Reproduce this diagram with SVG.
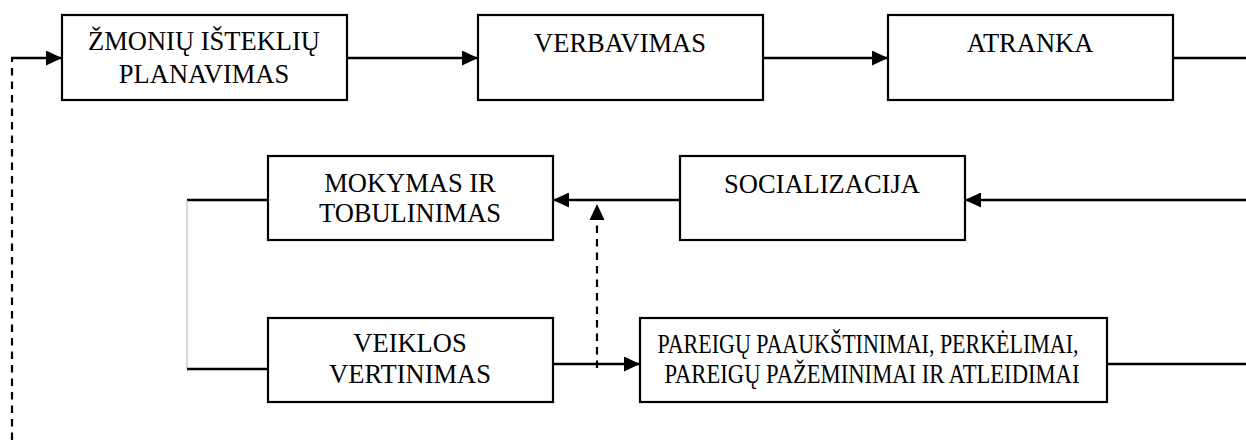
<svg xmlns="http://www.w3.org/2000/svg" width="1246" height="442" viewBox="0 0 1246 442">
  <style>
    .box { fill: #ffffff; stroke: #000000; stroke-width: 2.2; }
    .lbl { font-family: "Liberation Serif", "Times New Roman", serif; font-size: 26.5px; fill: #000000; text-anchor: middle; }
    .link { fill: none; stroke: #000000; stroke-width: 2.6; }
    .dash { fill: none; stroke: #000000; stroke-width: 2.2; stroke-dasharray: 7.5 6; }
    .thin { fill: none; stroke: #b0b0b0; stroke-width: 1; }
  </style>
  <defs>
    <marker id="arrow" viewBox="0 0 16 15" refX="16" refY="7.5" markerUnits="userSpaceOnUse" markerWidth="16" markerHeight="15" orient="auto">
      <path d="M0,0 L16,7.5 L0,15 Z" fill="#000000"/>
    </marker>
  </defs>
  <rect width="1246" height="442" fill="#ffffff"/>

  <g id="connectors">
    <!-- feedback loop back to planning -->
    <path class="dash" d="M12,440 L12,58"/>
    <path class="link" d="M11,58 L62,58" marker-end="url(#arrow)"/>
    <!-- top row -->
    <path class="link" d="M347,58 L478,58" marker-end="url(#arrow)"/>
    <path class="link" d="M763,58 L888,58" marker-end="url(#arrow)"/>
    <path class="link" d="M1173,58 L1246,58"/>
    <!-- middle row, right to left -->
    <path class="link" d="M1246,200 L965,200" marker-end="url(#arrow)"/>
    <path class="link" d="M680,200 L553,200" marker-end="url(#arrow)"/>
    <!-- left bracket joining training and appraisal -->
    <path class="link" d="M187,200 L268,200"/>
    <path class="thin" d="M187,200 L187,369"/>
    <path class="link" d="M187,369 L268,369"/>
    <!-- bottom row -->
    <path class="link" d="M553,364 L640,364" marker-end="url(#arrow)"/>
    <path class="dash" d="M597,368 L597,206" stroke-width="2.4"/>
    <path d="M589.5,220 L597,204 L604.5,220 Z" fill="#000000"/>
    <path class="link" d="M1107,364 L1246,364"/>
  </g>

  <g id="planavimas">
    <rect class="box" x="62" y="15" width="285" height="85"/>
    <text class="lbl" x="204" y="50">ŽMONIŲ IŠTEKLIŲ</text>
    <text class="lbl" x="204" y="83">PLANAVIMAS</text>
  </g>

  <g id="verbavimas">
    <rect class="box" x="478" y="15" width="285" height="85"/>
    <text class="lbl" x="620" y="52">VERBAVIMAS</text>
  </g>

  <g id="atranka">
    <rect class="box" x="888" y="15" width="285" height="85"/>
    <text class="lbl" x="1030" y="52">ATRANKA</text>
  </g>

  <g id="socializacija">
    <rect class="box" x="680" y="156" width="285" height="84"/>
    <text class="lbl" x="822" y="193">SOCIALIZACIJA</text>
  </g>

  <g id="mokymas">
    <rect class="box" x="268" y="156" width="285" height="84"/>
    <text class="lbl" x="410" y="192">MOKYMAS IR</text>
    <text class="lbl" x="410" y="222">TOBULINIMAS</text>
  </g>

  <g id="vertinimas">
    <rect class="box" x="268" y="318" width="285" height="84"/>
    <text class="lbl" x="410" y="352">VEIKLOS</text>
    <text class="lbl" x="410" y="383">VERTINIMAS</text>
  </g>

  <g id="pareigos">
    <rect class="box" x="640" y="318" width="467" height="84"/>
    <text class="lbl" x="868" y="353" textLength="421" lengthAdjust="spacingAndGlyphs">PAREIGŲ PAAUKŠTINIMAI, PERKĖLIMAI,</text>
    <text class="lbl" x="872" y="383" textLength="415" lengthAdjust="spacingAndGlyphs">PAREIGŲ PAŽEMINIMAI IR ATLEIDIMAI</text>
  </g>
</svg>
